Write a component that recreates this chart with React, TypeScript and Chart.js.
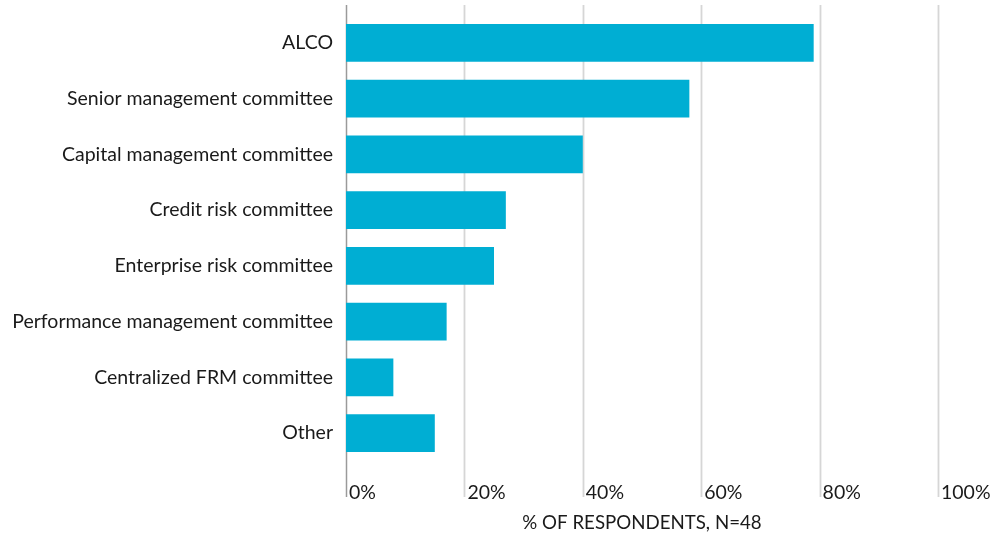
import React, { useEffect, useRef } from "react";
import { Chart, registerables } from "chart.js";

Chart.register(...registerables);

const categories = [
  "ALCO",
  "Senior management committee",
  "Capital management committee",
  "Credit risk committee",
  "Enterprise risk committee",
  "Performance management committee",
  "Centralized FRM committee",
  "Other",
];
const values = [79, 58, 40, 27, 25, 17, 8, 15];
const xTicks = [0, 20, 40, 60, 80, 100];
const axisTitle = "% OF RESPONDENTS, N=48";

const FONT = "Lato, 'Noto Sans', sans-serif";

const gridPlugin = {
  id: "extendedGrid",
  beforeDatasetsDraw(chart: any) {
    const { ctx, chartArea, scales } = chart;
    const x = scales.x;
    ctx.save();
    x.ticks.forEach((t: any) => {
      const px = Math.round(x.getPixelForValue(t.value)) + 0.5;
      const zero = t.value === 0;
      ctx.strokeStyle = zero ? "#9a9a9a" : "#d6d6d6";
      ctx.lineWidth = zero ? 1.5 : 1.8;
      ctx.beginPath();
      ctx.moveTo(px, chartArea.top - 10);
      ctx.lineTo(px, chartArea.bottom + 36);
      ctx.stroke();
    });
    ctx.restore();
  },
};

export default function App() {
  const ref = useRef<HTMLCanvasElement | null>(null);
  useEffect(() => {
    document.body.style.margin = "0";
    const ctx = ref.current!;
    const chart = new Chart(ctx, {
      type: "bar",
      data: {
        labels: categories,
        datasets: [
          {
            data: values,
            backgroundColor: "#00aed3",
            categoryPercentage: 1,
            barPercentage: 0.68,
          },
        ],
      },
      plugins: [gridPlugin],
      options: {
        indexAxis: "y",
        animation: false,
        responsive: false,
        maintainAspectRatio: false,
        layout: { padding: { top: 15, left: 0, right: 54, bottom: 0 } },
        plugins: { legend: { display: false }, tooltip: { enabled: false } },
        scales: {
          y: {
            type: "category",
            grid: { display: false, drawTicks: false, tickLength: 0 },
            border: { display: false },
            ticks: {
              color: "#1a1a1a",
              padding: 13,
              font: { family: FONT, size: 19.5 },
            },
            afterFit: (s: any) => {
              s.width = 346;
              s.paddingTop = 0;
              s.paddingBottom = 0;
            },
          },
          x: {
            type: "linear",
            position: "bottom",
            min: 0,
            max: 100,
            afterBuildTicks: (s: any) => {
              s.ticks = xTicks.map((v) => ({ value: v }));
            },
            grid: { display: false, drawTicks: false, tickLength: 0 },
            border: { display: false },
            ticks: {
              align: "start",
              labelOffset: 3,
              padding: 20,
              color: "#1a1a1a",
              font: { family: FONT, size: 19.5 },
              callback: (v: any) => v + "%",
            },
            title: {
              display: true,
              text: axisTitle,
              color: "#1a1a1a",
              font: { family: FONT, size: 18.7 },
              padding: { top: 0, bottom: 1 },
            },
            afterFit: (s: any) => {
              s.height = 74;
              s.paddingLeft = 0;
              s.paddingRight = 0;
            },
          },
        },
      },
    });
    return () => chart.destroy();
  }, []);
  return (
    <div style={{ width: 992, height: 535 }}>
      <canvas ref={ref} width={992} height={535} style={{ display: "block" }} />
    </div>
  );
}
